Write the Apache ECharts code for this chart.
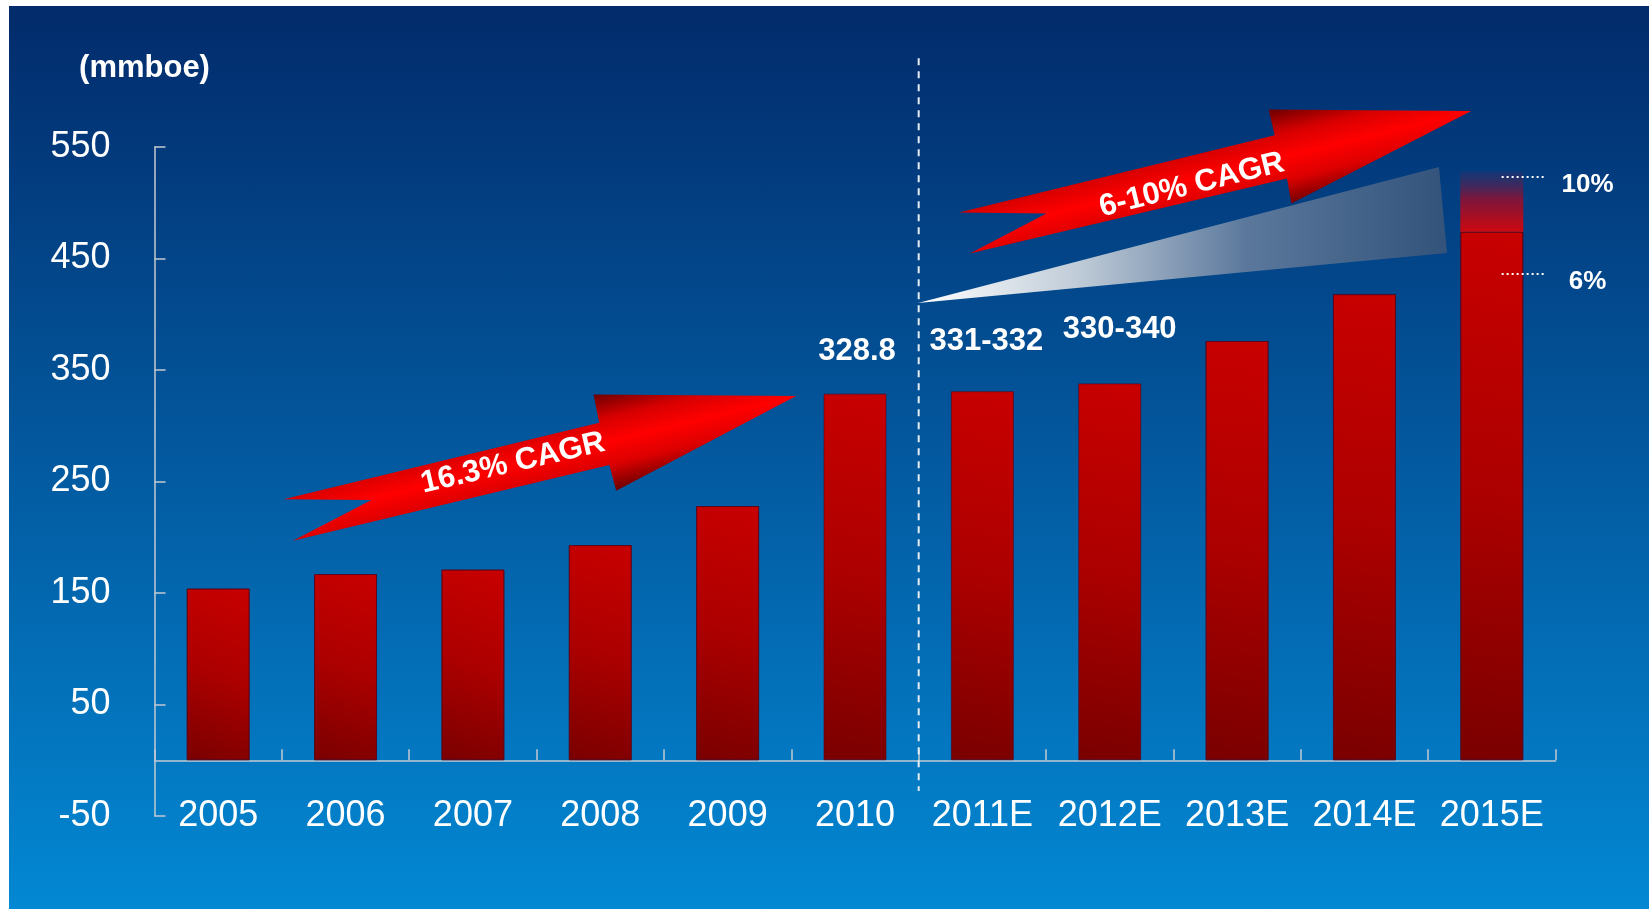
<!DOCTYPE html>
<html><head><meta charset="utf-8">
<script src="https://cdn.jsdelivr.net/npm/echarts@6/dist/echarts.min.js"></script>
<style>
html,body{margin:0;padding:0;background:#fff;width:1649px;height:909px;overflow:hidden;}
#bg{position:absolute;left:9px;top:6px;width:1640px;height:903px;background:linear-gradient(to bottom,#022b6b 0%,#03599f 50%,#0388d3 100%);}
#chart{position:absolute;left:0;top:0;width:1649px;height:909px;}
</style></head><body>
<div id="bg"></div><div id="chart"></div>
<script>
// ---- data ----
const categories = ['2005','2006','2007','2008','2009','2010','2011E','2012E','2013E','2014E','2015E'];
const production = [154, 167, 171, 193, 228, 328.8, 331, 338, 376, 418, 474];
const upsideRange = ['-','-','-','-','-','-','-','-','-','-', 54];
const valueLabels = ['', '', '', '', '', '328.8', '331-332', '330-340', '', '', ''];
const yMin = -50, yMax = 550, yStep = 100;
const unitLabel = '(mmboe)';
const cagrTexts = ['16.3% CAGR', '6-10% CAGR'];
const growthLabels = ['10%', '6%'];
const growthValues = [523, 436];

// ---- styling / layout ----
const FONT = '"Liberation Sans", Arial, sans-serif';
const labelPlacement = {5: {distance: 27, offset: [2, 0]}, 6: {distance: 34, offset: [4, 0]}, 7: {distance: 38, offset: [10, 0]}};

const barFill = {type: 'linear', x: 0, y: 1, x2: 1, y2: 0, colorStops: [
  {offset: 0, color: '#7a0000'}, {offset: 0.5, color: '#ac0000'}, {offset: 1, color: '#c80000'}]};
const upsideFill = {type: 'linear', x: 0, y: 0, x2: 0, y2: 1, colorStops: [
  {offset: 0, color: 'rgba(35,50,110,0.55)'}, {offset: 0.45, color: 'rgba(130,20,55,0.95)'}, {offset: 1, color: 'rgba(205,8,15,1)'}]};

const barData = production.map((v, i) => {
  const item = {value: v};
  if (valueLabels[i]) {
    const p = labelPlacement[i] || {distance: 30, offset: [0, 0]};
    item.label = {show: true, position: 'top', formatter: valueLabels[i], distance: p.distance, offset: p.offset};
  }
  return item;
});

const chart = echarts.init(document.getElementById('chart'), null, {renderer: 'canvas'});
const axisColor = '#c4cad2';
chart.setOption({
  animation: false,
  backgroundColor: 'transparent',
  textStyle: {fontFamily: FONT},
  grid: {left: 154.5, right: 93.5, top: 147, bottom: 93, containLabel: false},
  xAxis: {
    type: 'category', data: categories, boundaryGap: true,
    axisLine: {show: true, onZero: true, lineStyle: {color: axisColor, width: 1.5}},
    axisTick: {show: true, inside: true, length: 11, lineStyle: {color: axisColor, width: 1.5}},
    axisLabel: {color: '#fff', fontSize: 36, fontFamily: FONT, margin: -18, interval: 0},
    splitLine: {show: false}
  },
  yAxis: {
    type: 'value', min: yMin, max: yMax, interval: yStep,
    name: unitLabel, nameLocation: 'end', nameGap: 79,
    nameTextStyle: {color: '#fff', fontSize: 31, fontWeight: 'bold', fontFamily: FONT, align: 'center', verticalAlign: 'middle', padding: [0, 20, 0, 0]},
    axisLine: {show: true, lineStyle: {color: axisColor, width: 1.5}},
    axisTick: {show: true, inside: true, length: 11, lineStyle: {color: axisColor, width: 1.5}},
    axisLabel: {color: '#fff', fontSize: 36, fontFamily: FONT, margin: 44, showMinLabel: true, showMaxLabel: true},
    splitLine: {show: false}
  },
  series: [
    {type: 'bar', name: 'Production', stack: 'p', barWidth: 63, data: barData,
     itemStyle: {color: barFill, borderColor: 'rgba(90,0,20,0.6)', borderWidth: 1},
     label: {color: '#fff', fontSize: 31, fontWeight: 'bold', fontFamily: FONT}},
    {type: 'bar', name: 'Upside', stack: 'p', barWidth: 63, data: upsideRange,
     itemStyle: {color: upsideFill, borderWidth: 0}}
  ]
});

// ---- annotations (positions in [category position, axis value]) ----
function P(c, v) {
  const x0 = chart.convertToPixel({xAxisIndex: 0}, categories[0]);
  const x1 = chart.convertToPixel({xAxisIndex: 0}, categories[1]);
  const band = x1 - x0;
  const y = chart.convertToPixel({yAxisIndex: 0}, v);
  return [x0 - band / 2 + c * band, y];
}
const leftArrow = [[1.013,234.1],[3.492,302.8],[3.447,328.0],[5.038,326.7],[3.625,241.6],[3.571,264.9],[1.087,196.8],[1.703,233.5]];
const rightArrow = [[6.317,491.2],[8.795,560.5],[8.748,583.6],[10.339,582.3],[8.926,499.3],[8.892,521.7],[6.401,454.4],[7.003,490.3]];
const wedge = [[5.995,410.1],[10.085,532.1],[10.148,455.0]];

function arrowShape(def) {
  const pts = def.map(p => P(p[0], p[1]));
  const dx = pts[1][0] - pts[0][0], dy = pts[1][1] - pts[0][1];
  const L = Math.hypot(dx, dy);
  const n = [-dy / L, dx / L];
  const tip = pts[3], h = 50;
  return {
    type: 'polygon', z: 10, silent: true,
    shape: {points: pts},
    style: {fill: {type: 'linear', global: true,
      x: tip[0] - h * n[0], y: tip[1] - h * n[1], x2: tip[0] + h * n[0], y2: tip[1] + h * n[1],
      colorStops: [{offset: 0, color: '#6a0000'}, {offset: 0.27, color: '#d80000'}, {offset: 0.5, color: '#ff0000'},
                   {offset: 0.73, color: '#dc0000'}, {offset: 1, color: '#6a0000'}]}}
  };
}
function textAt(c, v, txt, rotDeg, size) {
  const p = P(c, v);
  return {type: 'text', z: 12, silent: true, x: p[0], y: p[1], rotation: rotDeg * Math.PI / 180,
    style: {text: txt, fill: '#fff', fontSize: size, fontWeight: 'bold', fontFamily: FONT,
            align: 'center', verticalAlign: 'middle', textAlign: 'center', textVerticalAlign: 'middle'}};
}
const wpts = wedge.map(p => P(p[0], p[1]));
const divTop = P(6, 629.6), divBot = P(6, -27.5);
const graphics = [
  {type: 'line', z: 9, silent: true, shape: {x1: divTop[0], y1: divTop[1], x2: divBot[0], y2: divBot[1]},
   style: {stroke: '#e6edf5', lineWidth: 2, lineDash: [7, 6]}},
  {type: 'polygon', z: 9, silent: true, shape: {points: wpts},
   style: {fill: {type: 'linear', global: true, x: wpts[0][0], y: 0, x2: wpts[2][0], y2: 0,
     colorStops: [{offset: 0, color: '#ffffff'}, {offset: 0.3, color: '#c0ccd8'}, {offset: 0.62, color: '#5b789c'}, {offset: 1, color: '#33537b'}]}}},
  arrowShape(leftArrow),
  arrowShape(rightArrow),
  textAt(2.814, 266.4, cagrTexts[0], 13, 31),
  textAt(8.144, 515.7, cagrTexts[1], 14, 31)
];
growthValues.forEach((v, i) => {
  const a = P(10.577, v), b = P(10.93, v);
  graphics.push({type: 'line', z: 11, silent: true, shape: {x1: a[0], y1: a[1], x2: b[0], y2: b[1]},
    style: {stroke: '#ffffff', lineWidth: 2, lineDash: [2, 3]}});
  const t = P(11.252, v);
  graphics.push({type: 'text', z: 12, silent: true, x: t[0], y: t[1] + 8,
    style: {text: growthLabels[i], fill: '#fff', fontSize: 26, fontWeight: 'bold', fontFamily: FONT,
            align: 'center', verticalAlign: 'middle', textAlign: 'center', textVerticalAlign: 'middle'}});
});
chart.setOption({graphic: {elements: graphics}});
</script>
</body></html>
